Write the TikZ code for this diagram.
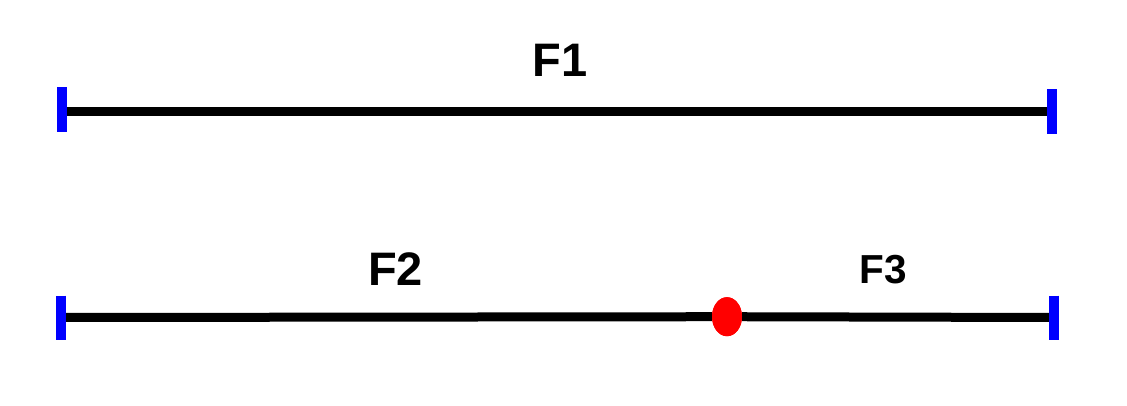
\documentclass[tikz,border=0pt]{standalone}
\usepackage{fontspec}
\setmainfont{Liberation Sans}
\usetikzlibrary{shapes.geometric}
\begin{document}
\begin{tikzpicture}[x=1pt,y=-1pt,
  seg/.style={line width=9pt},
  tick/.style={draw=blue,line width=10pt},
  lbl/.style={font=\bfseries\fontsize{47}{47}\selectfont,inner sep=0pt,anchor=base},
  lblsmall/.style={font=\bfseries\fontsize{40.5}{40.5}\selectfont,inner sep=0pt,anchor=base},
  dot/.style={ellipse,fill=red,draw=none,minimum width=30pt,minimum height=39pt,inner sep=0pt}]
\useasboundingbox (0,0) rectangle (1127,406);
% top line
\coordinate (a1) at (62,111.5);
\coordinate (b1) at (1051.5,111.5);
\draw[seg] (a1) -- (b1);
\coordinate (a1t) at (62,87.5);
\coordinate (a1b) at (62,132);
\coordinate (b1t) at (1051.5,89.5);
\coordinate (b1b) at (1051.5,134);
\draw[tick] (a1t) -- (a1b);
\draw[tick] (b1t) -- (b1b);
\node[lbl] (f1) at (560,76.7) {F1};
% bottom line
\coordinate (a2) at (60.5,317.5);
\coordinate (b2) at (1053.5,317.5);
\node[dot] (p) at (727,316.7) {};
\draw[seg] (a2) -- (p);
\draw[seg] (p) -- (b2);
\node[dot] at (p) {};
\coordinate (a2t) at (60.5,295.5);
\coordinate (a2b) at (60.5,340);
\coordinate (b2t) at (1053.5,295.5);
\coordinate (b2b) at (1053.5,340);
\draw[tick] (a2t) -- (a2b);
\draw[tick] (b2t) -- (b2b);
\node[lbl] (f2) at (395.7,285) {F2};
\node[lblsmall] (f3) at (883.3,283.3) {F3};
\end{tikzpicture}
\end{document}
